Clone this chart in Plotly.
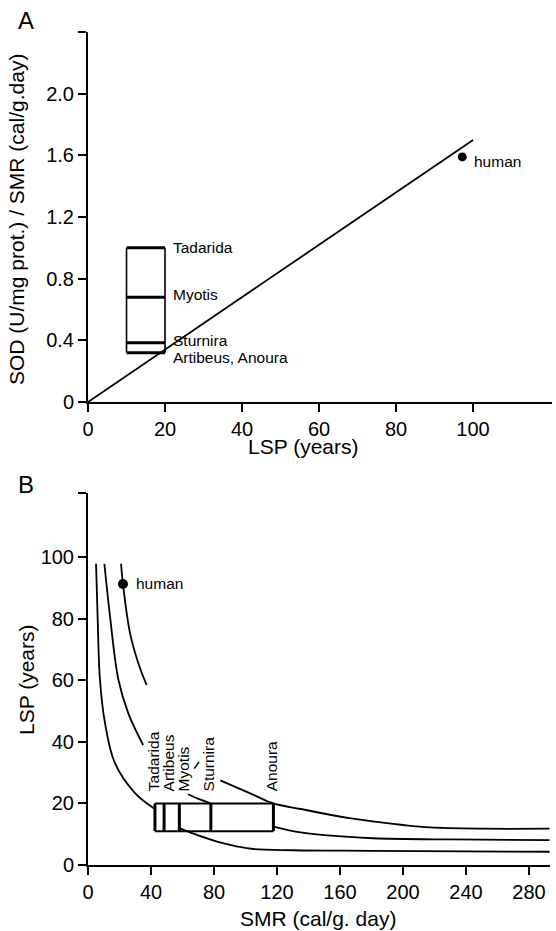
import plotly.graph_objects as go

# ---------------- Panel A data ----------------
fit_lsp = [0, 100]
fit_ratio = [0.0, 1.70]
bats_A = ["Tadarida", "Myotis", "Sturnira", "Artibeus, Anoura"]
bats_A_ratio = [1.00, 0.68, 0.385, 0.32]
bats_A_label_y = [1.00, 0.70, 0.40, 0.29]
bats_A_lsp_range = [10, 20]
human_A_lsp = 97.2
human_A_ratio = 1.59
yticks_A = [0, 0.4, 0.8, 1.2, 1.6, 2.0, 2.4]
yticklabels_A = ["0", "0.4", "0.8", "1.2", "1.6", "2.0", ""]
xticks_A = [0, 20, 40, 60, 80, 100]

# ---------------- Panel B data ----------------
bats_B = ["Tadarida", "Artibeus", "Myotis", "Sturnira", "Anoura"]
bats_B_smr = [42.5, 48.3, 58.0, 78.0, 117.7]
bats_B_label_smr = [41.6, 51.0, 60.5, 76.4, 116.6]
bats_B_lsp_range = [11.0, 20.0]
human_B_smr = 22.2
human_B_lsp = 91.3

curve1a_smr = [5.1, 6.1, 7.6, 10.8, 17.1, 30.0, 42.5]
curve1a_lsp = [97.9, 80.7, 60.2, 46.1, 33.1, 23.3, 18.2]
curve1b_smr = [58.4, 70, 82, 95, 105, 130, 180, 240, 293]
curve1b_lsp = [11.9, 9.6, 7.6, 6.0, 5.2, 4.8, 4.6, 4.4, 4.3]

curve2a_smr = [10.4, 14.0, 19.3, 25.6, 35.0]
curve2a_lsp = [97.9, 80.7, 60.2, 49.3, 39.0]
curve2b_smr = [63.5, 70.5, 78.0]
curve2b_lsp = [23.0, 21.4, 20.0]
curve2c_smr = [117.7, 135, 152, 181, 230, 293]
curve2c_lsp = [12.5, 10.6, 9.6, 8.7, 8.3, 8.1]

curve3a_smr = [21.0, 22.2, 26.7, 32.0, 37.2]
curve3a_lsp = [97.9, 91.3, 75.3, 65.5, 58.5]
curve3b_smr = [84, 103, 117.7, 135, 166, 200, 217, 250, 293]
curve3b_lsp = [27.5, 23.3, 20.0, 18.2, 15.2, 13.0, 12.2, 11.8, 11.8]

leader_smr = [67.5, 70.5]
leader_lsp = [31.3, 33.5]

yticks_B = [0, 20, 40, 60, 80, 100, 121]
yticklabels_B = ["0", "20", "40", "60", "80", "100", ""]
xticks_B = [0, 40, 80, 120, 160, 200, 240, 280]

FONT = "Liberation Sans, Arial, Helvetica, sans-serif"
W, H = 556, 931

fig = go.Figure()


def line(x, y, xa, ya, w=1.8, shape="linear"):
    fig.add_trace(go.Scatter(x=x, y=y, mode="lines", xaxis=xa, yaxis=ya,
                             line=dict(color="black", width=w, shape=shape,
                                       smoothing=1.0),
                             hoverinfo="skip", showlegend=False))


# Panel A
line(fit_lsp, fit_ratio, "x", "y", 1.8)
lo, hi = bats_A_lsp_range
ymin, ymax = min(bats_A_ratio), max(bats_A_ratio)
line([lo, lo], [ymin, ymax], "x", "y", 1.6)
line([hi, hi], [ymin, ymax], "x", "y", 1.6)
for v in bats_A_ratio:
    line([lo, hi], [v, v], "x", "y", 3.0)
fig.add_trace(go.Scatter(x=[human_A_lsp], y=[human_A_ratio], mode="markers",
                         xaxis="x", yaxis="y", marker=dict(color="black", size=9),
                         hoverinfo="skip", showlegend=False))

# Panel B curves
for xs, ys in [(curve1a_smr, curve1a_lsp), (curve1b_smr, curve1b_lsp),
               (curve2a_smr, curve2a_lsp), (curve2b_smr, curve2b_lsp),
               (curve2c_smr, curve2c_lsp), (curve3a_smr, curve3a_lsp),
               (curve3b_smr, curve3b_lsp)]:
    line(xs, ys, "x2", "y2", 1.8, "spline")
line(leader_smr, leader_lsp, "x2", "y2", 1.5)

blo, bhi = bats_B_lsp_range
line([min(bats_B_smr), max(bats_B_smr)], [bhi, bhi], "x2", "y2", 2.0)
line([min(bats_B_smr), max(bats_B_smr)], [blo, blo], "x2", "y2", 2.0)
for s in bats_B_smr:
    line([s, s], [blo, bhi], "x2", "y2", 3.0)
fig.add_trace(go.Scatter(x=[human_B_smr], y=[human_B_lsp], mode="markers",
                         xaxis="x2", yaxis="y2", marker=dict(color="black", size=10),
                         hoverinfo="skip", showlegend=False))

ann = []
# species labels A
for name, yv in zip(bats_A, bats_A_label_y):
    ann.append(dict(x=21.6, y=yv, xref="x", yref="y", text=name, showarrow=False,
                    xanchor="left", yanchor="middle", font=dict(size=15.5)))
ann.append(dict(x=99.8, y=1.56, xref="x", yref="y", text="human", showarrow=False,
                xanchor="left", yanchor="middle", font=dict(size=15.5)))
# species labels B (rotated)
for name, xv in zip(bats_B, bats_B_label_smr):
    ann.append(dict(x=xv, y=23.2, xref="x2", yref="y2", text=name, showarrow=False,
                    textangle=-90, xanchor="center", yanchor="bottom",
                    font=dict(size=15.5)))
ann.append(dict(x=29.0, y=91.6, xref="x2", yref="y2", text="human", showarrow=False,
                xanchor="left", yanchor="middle", font=dict(size=15.5)))


def pxx(xp):
    return xp / W


def pxy(yp):
    return 1 - yp / H


# panel letters and axis titles (paper coords from window pixel positions)
for txt, (xp, yp), size, ang in [
    ("A", (26, 21), 24, 0),
    ("B", (26, 484), 24, 0),
    ("SOD (U/mg prot.) / SMR (cal/g.day)", (16, 220), 21, -90),
    ("LSP (years)", (303, 446), 21, 0),
    ("LSP (years)", (26, 680), 21, -90),
    ("SMR (cal/g. day)", (318, 918), 21, 0),
]:
    ann.append(dict(x=pxx(xp), y=pxy(yp), xref="paper", yref="paper", text=txt,
                    showarrow=False, xanchor="center", yanchor="middle",
                    textangle=ang, font=dict(size=size)))

axis_common = dict(showline=True, linecolor="black", linewidth=2, ticks="outside",
                   ticklen=8, tickwidth=2, tickcolor="black", showgrid=False,
                   zeroline=False, tickfont=dict(size=20, color="black"),
                   mirror=False, fixedrange=True, automargin=False)

fig.update_layout(
    width=W, height=H, autosize=False,
    margin=dict(l=0, r=0, t=0, b=0, autoexpand=False),
    paper_bgcolor="white", plot_bgcolor="white",
    font=dict(family=FONT, color="black"),
    showlegend=False,
    xaxis=dict(domain=[pxx(88), pxx(552)], range=[0, 120.5], tickvals=xticks_A,
               anchor="y", **axis_common),
    yaxis=dict(domain=[pxy(402), pxy(32)], range=[0, 2.4],
               tickvals=yticks_A, ticktext=yticklabels_A, anchor="x",
               **axis_common),
    xaxis2=dict(domain=[pxx(88), pxx(550)], range=[0, 293.3], tickvals=xticks_B,
                anchor="y2", **axis_common),
    yaxis2=dict(domain=[pxy(865), pxy(492.7)], range=[0, 121],
                tickvals=yticks_B, ticktext=yticklabels_B, anchor="x2",
                **axis_common),
    annotations=ann,
)

# remove the default 8px page margin so the 556x931 figure fills the window
fig.write_html("out.html",
               config={"displayModeBar": False, "staticPlot": True},
               post_script="document.body.style.margin='0';"
                           "document.body.style.overflow='hidden';")
